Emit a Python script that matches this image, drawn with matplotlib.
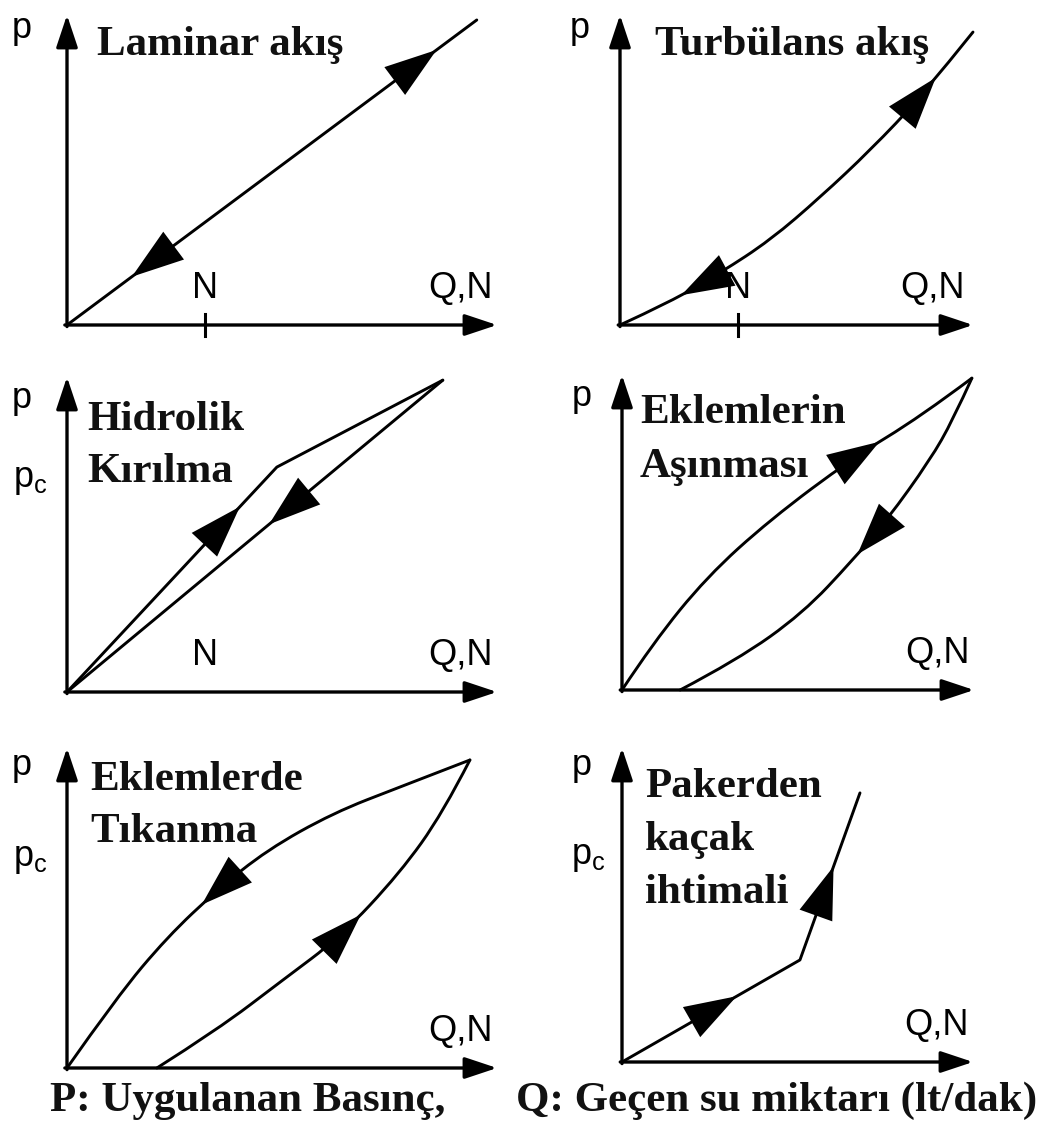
import numpy as np
import matplotlib
matplotlib.use("Agg")
from matplotlib import pyplot as plt
from matplotlib.path import Path
from matplotlib.patches import PathPatch

# --- data: normalised (Q, p) points, axis arrow tip = 1 ---
laminar_q = [0.0, 0.953]
laminar_p = [0.0, 0.984]

turb_q = [0.0, 0.142, 0.284, 0.426, 0.568, 0.710, 0.852, 1.0]
turb_p = [0.0, 0.074, 0.168, 0.274, 0.413, 0.565, 0.735, 0.945]

hidro_up_q = [0.0, 0.488, 0.874]
hidro_up_p = [0.0, 0.714, 0.99]
hidro_down_q = [0.874, 0.0]
hidro_down_p = [0.99, 0.0]

asinma_up_q = [0.0, 0.088, 0.241, 0.420, 0.656, 0.847, 0.994]
asinma_up_p = [0.0, 0.149, 0.359, 0.540, 0.737, 0.867, 0.990]
asinma_down_q = [0.994, 0.940, 0.875, 0.753, 0.656, 0.514, 0.327, 0.165]
asinma_down_p = [0.990, 0.857, 0.730, 0.540, 0.413, 0.244, 0.095, 0.0]

tikanma_up_q = [0.209, 0.349, 0.502, 0.635, 0.774, 0.874, 0.937]
tikanma_up_p = [0.0, 0.119, 0.275, 0.409, 0.609, 0.797, 0.9625]
tikanma_down_q = [0.937, 0.774, 0.619, 0.465, 0.349, 0.233, 0.116, 0.0]
tikanma_down_p = [0.9625, 0.878, 0.797, 0.681, 0.556, 0.409, 0.222, 0.0]

paker_q = [0.0, 0.507, 0.678]
paker_p = [0.0, 0.325, 0.857]

titles = [["Laminar akış"], ["Turbülans akış"], ["Hidrolik", "Kırılma"],
          ["Eklemlerin", "Aşınması"], ["Eklemlerde", "Tıkanma"],
          ["Pakerden", "kaçak", "ihtimali"]]
caption_p = "P: Uygulanan Basınç,"
caption_q = "Q: Geçen su miktarı (lt/dak)"

W, H = 1042, 1124
# origin x, origin y, width, height in pixels of every little axes
boxes = [(67, 325, 430, 310), (620, 325, 353, 310),
         (67, 692, 430, 315), (622, 690, 352, 315),
         (67, 1068, 430, 320), (622, 1062, 351, 314)]

INK = "#111111"
SERIF = ["Liberation Serif", "DejaVu Serif"]
SANS = ["Liberation Sans", "DejaVu Sans"]

fig = plt.figure(figsize=(W / 100, H / 100), dpi=100)
fig.patch.set_facecolor("white")


def make_ax(box):
    ox, oy, bw, bh = box
    ax = fig.add_axes([ox / W, 1 - oy / H, bw / W, bh / H])
    ax.set_xlim(0, 1)
    ax.set_ylim(0, 1)
    ax.axis("off")
    style = "-|>,head_length=0.9,head_width=0.3"
    ax.annotate("", xy=(1, 0), xytext=(-0.005, 0), xycoords="axes fraction",
                arrowprops=dict(arrowstyle=style, lw=2.4, color="k",
                                mutation_scale=22, shrinkA=0, shrinkB=0))
    ax.annotate("", xy=(0, 1), xytext=(0, -0.005), xycoords="axes fraction",
                arrowprops=dict(arrowstyle=style, lw=2.4, color="k",
                                mutation_scale=22, shrinkA=0, shrinkB=0))
    return ax


def build_path(q, p):
    v = np.column_stack([q, p]).astype(float)
    if len(v) < 3:
        return Path(v)
    # quadratic pieces through the midpoints -> smooth pen stroke
    verts = [v[0]]
    codes = [Path.MOVETO]
    for i in range(1, len(v) - 2):
        verts += [v[i], (v[i] + v[i + 1]) / 2]
        codes += [Path.CURVE3, Path.CURVE3]
    verts += [v[-2], v[-1]]
    codes += [Path.CURVE3, Path.CURVE3]
    return Path(verts, codes)


def curve(ax, q, p, smooth=True):
    path = build_path(q, p) if smooth else Path(np.column_stack([q, p]))
    ax.add_patch(PathPatch(path, fill=False, ec="k", lw=2.1, clip_on=False,
                           capstyle="round", joinstyle="round"))
    return path


def arrow_on(ax, path, frac):
    pts = []
    for seg, code in path.iter_bezier():
        pts.append(seg(np.linspace(0, 1, 30)))
    pts = ax.transData.transform(np.vstack(pts))
    seglen = np.hypot(*np.diff(pts, axis=0).T)
    s = np.concatenate([[0], np.cumsum(seglen)])
    t = frac * s[-1]
    x, y = np.interp(t, s, pts[:, 0]), np.interp(t, s, pts[:, 1])
    x2, y2 = np.interp(t + 6, s, pts[:, 0]), np.interp(t + 6, s, pts[:, 1])
    inv = ax.transData.inverted()
    ax.annotate("", xy=inv.transform((x2, y2)), xytext=inv.transform((x, y)),
                arrowprops=dict(arrowstyle="-|>,head_length=1.5,head_width=0.5",
                                lw=0, color="k", mutation_scale=25,
                                shrinkA=0, shrinkB=0))


def label(ax, x, y, s, size=26, **kw):
    ax.text(x, y, s, transform=ax.transAxes, family=SANS, fontsize=size,
            color="k", clip_on=False, **kw)


def title(x_px, baselines_px, lines):
    for yb, s in zip(baselines_px, lines):
        fig.text(x_px / W, 1 - yb / H, s, family=SERIF, fontweight="bold",
                 fontsize=31, color=INK, va="baseline", ha="left")


axes = [make_ax(b) for b in boxes]
fig.canvas.draw()

# 1 laminar
ax = axes[0]
curve(ax, laminar_q, laminar_p, smooth=False)
arrow_on(ax, Path(np.column_stack([laminar_q, laminar_p])), 0.89)
arrow_on(ax, Path(np.column_stack([laminar_q[::-1], laminar_p[::-1]])), 0.83)
ax.plot([0.32, 0.32], [-0.035, 0.035], color="k", lw=2.2, clip_on=False)
label(ax, 0.32, 0.06, "N", ha="center", va="bottom")
label(ax, 0.915, 0.06, "Q,N", ha="center", va="bottom")
label(ax, -0.105, 0.9, "p", ha="center", va="bottom")
title(97, [55], titles[0])

# 2 turbulent
ax = axes[1]
up = curve(ax, turb_q, turb_p)
down = build_path(turb_q[::-1], turb_p[::-1])
arrow_on(ax, up, 0.86)
arrow_on(ax, down, 0.84)
ax.plot([0.335, 0.335], [-0.035, 0.035], color="k", lw=2.2, clip_on=False)
label(ax, 0.335, 0.06, "N", ha="center", va="bottom")
label(ax, 0.885, 0.06, "Q,N", ha="center", va="bottom")
label(ax, -0.115, 0.9, "p", ha="center", va="bottom")
title(655, [55], titles[1])

# 3 hydraulic fracturing
ax = axes[2]
up = curve(ax, hidro_up_q, hidro_up_p, smooth=False)
down = curve(ax, hidro_down_q, hidro_down_p, smooth=False)
arrow_on(ax, up, 0.50)
arrow_on(ax, down, 0.45)
label(ax, 0.32, 0.06, "N", ha="center", va="bottom")
label(ax, 0.915, 0.06, "Q,N", ha="center", va="bottom")
label(ax, -0.105, 0.875, "p", ha="center", va="bottom")
label(ax, -0.085, 0.62, r"$\mathregular{p_c}$", ha="center", va="bottom")
title(87, [430, 482], titles[2])

# 4 joint wash-out
ax = axes[3]
up = curve(ax, asinma_up_q, asinma_up_p)
down = curve(ax, asinma_down_q, asinma_down_p)
arrow_on(ax, up, 0.75)
arrow_on(ax, down, 0.47)
label(ax, 0.895, 0.06, "Q,N", ha="center", va="bottom")
label(ax, -0.115, 0.875, "p", ha="center", va="bottom")
title(640, [423, 477], titles[3])

# 5 joint clogging
ax = axes[4]
up = curve(ax, tikanma_up_q, tikanma_up_p)
down = curve(ax, tikanma_down_q, tikanma_down_p)
arrow_on(ax, up, 0.56)
arrow_on(ax, down, 0.58)
label(ax, 0.915, 0.06, "Q,N", ha="center", va="bottom")
label(ax, -0.105, 0.89, "p", ha="center", va="bottom")
label(ax, -0.085, 0.6, r"$\mathregular{p_c}$", ha="center", va="bottom")
title(90, [790, 842], titles[4])

# 6 packer leak
ax = axes[5]
pth = curve(ax, paker_q, paker_p, smooth=False)
arrow_on(ax, pth, 0.33)
arrow_on(ax, pth, 0.78)
label(ax, 0.895, 0.06, "Q,N", ha="center", va="bottom")
label(ax, -0.115, 0.89, "p", ha="center", va="bottom")
label(ax, -0.095, 0.6, r"$\mathregular{p_c}$", ha="center", va="bottom")
title(645, [797, 850, 903], titles[5])

fig.text(50 / W, 1 - 1111 / H, caption_p, family=SERIF, fontweight="bold",
         fontsize=31, color=INK, ha="left", va="baseline")
fig.text(1037 / W, 1 - 1111 / H, caption_q, family=SERIF, fontweight="bold",
         fontsize=31, color=INK, ha="right", va="baseline")

fig.savefig("out.png", dpi=100, facecolor="white")
